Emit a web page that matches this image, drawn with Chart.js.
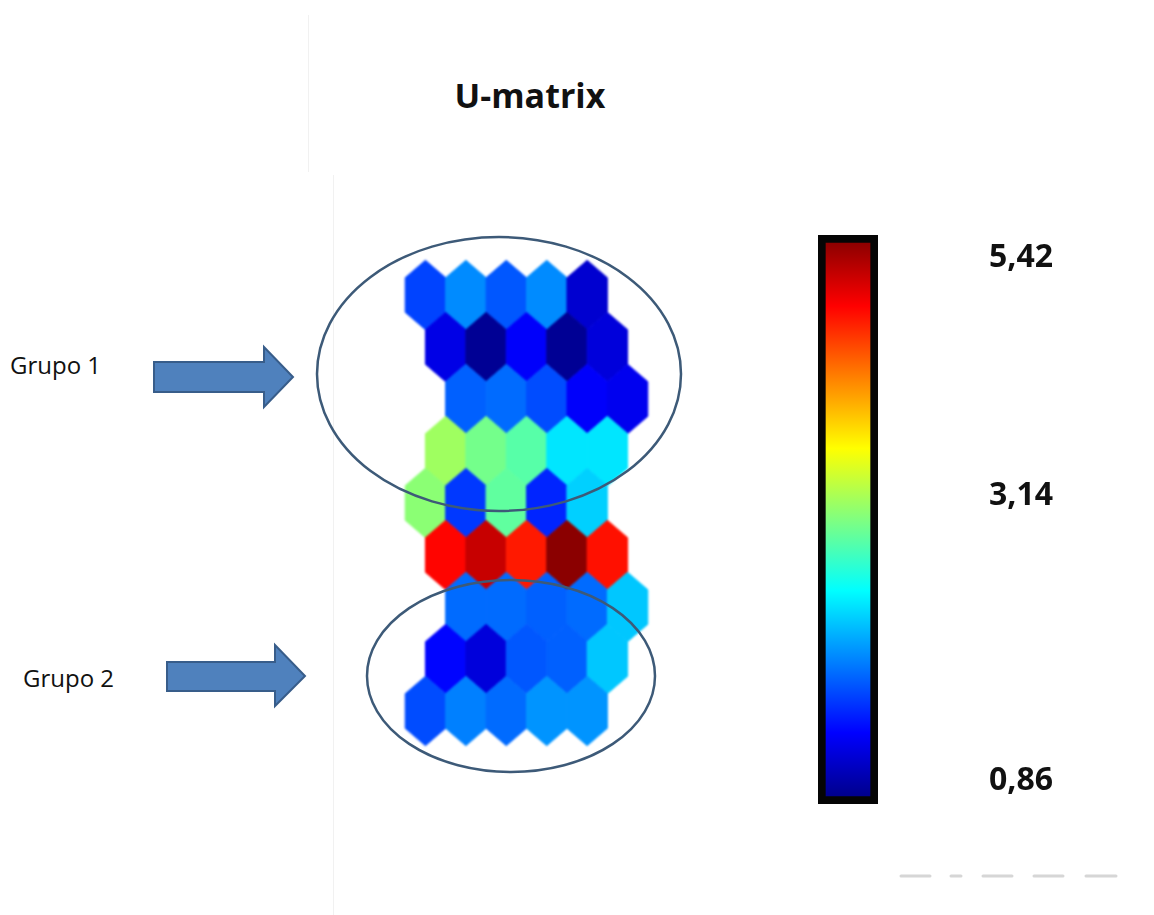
<!DOCTYPE html>
<html>
<head>
<meta charset="utf-8">
<script src="https://cdn.jsdelivr.net/npm/chart.js@4.4.1/dist/chart.umd.min.js"></script>
<style>
html,body{margin:0;padding:0;background:#fff;}
body{width:1154px;height:915px;overflow:hidden;position:relative;font-family:"Open Sans",sans-serif;}
#hexWrap{position:absolute;left:385px;top:243px;width:283px;height:520px;filter:blur(1.3px);}
#cbWrap{position:absolute;left:800px;top:200px;width:300px;height:640px;}
svg{position:absolute;left:0;top:0;}
.txt{position:absolute;white-space:nowrap;color:#111;line-height:1;}
#title{left:330px;top:78px;width:400px;text-align:center;font-size:34px;font-weight:bold;}
#g1{left:10px;top:353px;font-size:24px;}
#g2{left:23px;top:666px;font-size:24px;}
</style>
</head>
<body>
<svg width="1154" height="915" style="z-index:0">
  <line x1="308.5" y1="15" x2="308.5" y2="172" stroke="#f1f1f1" stroke-width="1"/>
  <line x1="333.5" y1="175" x2="333.5" y2="915" stroke="#f1f1f1" stroke-width="1"/>
  <g stroke="#d6d6d6" stroke-width="3" stroke-linecap="round">
    <line x1="901" y1="876" x2="930" y2="876"/>
    <line x1="951" y1="876" x2="961" y2="876"/>
    <line x1="983" y1="876" x2="1012" y2="876"/>
    <line x1="1034" y1="876" x2="1063" y2="876"/>
    <line x1="1086" y1="876" x2="1116" y2="876"/>
  </g>
</svg>
<div id="hexWrap"><canvas id="hex"></canvas></div>
<div id="cbWrap"><canvas id="cb"></canvas></div>
<svg width="1154" height="915" style="z-index:2">
  <ellipse cx="499" cy="374" rx="182" ry="137" fill="none" stroke="#3D5A78" stroke-width="2.5"/>
  <ellipse cx="511" cy="676" rx="144" ry="96" fill="none" stroke="#3D5A78" stroke-width="2.5"/>
  <polygon points="154,362 264,362 264,347 293,377 264,407 264,392 154,392" fill="#4F81BD" stroke="#385D8A" stroke-width="2" stroke-linejoin="miter"/>
  <polygon points="167,662 275,662 275,645 305,676 275,706 275,691 167,691" fill="#4F81BD" stroke="#385D8A" stroke-width="2" stroke-linejoin="miter"/>
</svg>
<div class="txt" id="title">U-matrix</div>
<div class="txt" id="g1">Grupo 1</div>
<div class="txt" id="g2">Grupo 2</div>

<script>
// ---- data ----
const scaleMin = 0.86;
const scaleMax = 5.42;
const colorbarTicks = [0.86, 3.14, 5.42];
const rowShift = [0, 1, 2, 1, 0, 1, 2, 1, 0]; // half-cell offsets of each hex row
const row1 = [1.73, 2.05, 1.82, 2.05, 1.22];
const row2 = [1.32, 0.95, 1.41, 0.95, 1.27];
const row3 = [1.86, 1.91, 1.77, 1.41, 1.36];
const row4 = [3.28, 3.09, 2.96, 2.46, 2.46];
const row5 = [3.19, 1.68, 3.00, 1.59, 2.36];
const row6 = [4.83, 5.10, 4.74, 5.37, 4.78];
const row7 = [1.91, 1.91, 1.86, 1.91, 2.32];
const row8 = [1.45, 1.27, 1.82, 1.86, 2.32];
const row9 = [1.77, 2.00, 1.91, 2.09, 2.09];
const hexRows = [row1, row2, row3, row4, row5, row6, row7, row8, row9];

// ---- colormap (jet) ----
function clamp01(v){ return Math.max(0, Math.min(1, v)); }
function jet(t){
  t = clamp01(t);
  const r = clamp01(1.5 - Math.abs(4*t - 3));
  const g = clamp01(1.5 - Math.abs(4*t - 2));
  const b = clamp01(1.5 - Math.abs(4*t - 1));
  return `rgb(${Math.round(r*255)},${Math.round(g*255)},${Math.round(b*255)})`;
}
function colorFor(v){ return jet((v - scaleMin) / (scaleMax - scaleMin)); }

// ---- hex points ----
const hexPoints = [];
hexRows.forEach((row, r) => {
  row.forEach((v, c) => {
    hexPoints.push({ x: c + rowShift[r] * 0.5, y: r, v: v });
  });
});

const hexPlugin = {
  id: 'hexCells',
  afterDatasetsDraw(chart) {
    const meta = chart.getDatasetMeta(0);
    const ds = chart.data.datasets[0];
    const xs = chart.scales.x, ys = chart.scales.y;
    const hw = Math.abs(xs.getPixelForValue(1) - xs.getPixelForValue(0)) / 2;
    const hh = Math.abs(ys.getPixelForValue(1) - ys.getPixelForValue(0)) / 1.5;
    const ctx = chart.ctx;
    ctx.save();
    meta.data.forEach((el, i) => {
      const d = ds.data[i];
      const cx = el.x, cy = el.y;
      ctx.beginPath();
      ctx.moveTo(cx, cy - hh);
      ctx.lineTo(cx + hw, cy - hh / 2);
      ctx.lineTo(cx + hw, cy + hh / 2);
      ctx.lineTo(cx, cy + hh);
      ctx.lineTo(cx - hw, cy + hh / 2);
      ctx.lineTo(cx - hw, cy - hh / 2);
      ctx.closePath();
      const col = colorFor(d.v);
      ctx.fillStyle = col;
      ctx.strokeStyle = col;
      ctx.lineWidth = 1;
      ctx.fill();
      ctx.stroke();
    });
    ctx.restore();
  }
};

new Chart(document.getElementById('hex'), {
  type: 'scatter',
  data: { datasets: [{ data: hexPoints, pointRadius: 0, pointHoverRadius: 0 }] },
  options: {
    responsive: true, maintainAspectRatio: false, animation: false,
    layout: { padding: 0 },
    plugins: { legend: { display: false }, tooltip: { enabled: false } },
    events: [],
    scales: {
      x: { type: 'linear', min: -1, max: 6, display: false },
      y: { type: 'linear', min: -1, max: 9, reverse: true, display: false }
    }
  },
  plugins: [hexPlugin]
});

// ---- colorbar ----
new Chart(document.getElementById('cb'), {
  type: 'bar',
  data: {
    labels: ['U'],
    datasets: [{
      data: [[scaleMin, scaleMax]],
      backgroundColor: (context) => {
        const chart = context.chart;
        if (!chart.chartArea) return 'rgba(0,0,0,0)';
        const ys = chart.scales.y;
        const g = chart.ctx.createLinearGradient(0, ys.getPixelForValue(scaleMin), 0, ys.getPixelForValue(scaleMax));
        for (let i = 0; i <= 32; i++) { g.addColorStop(i / 32, jet(i / 32)); }
        return g;
      },
      borderColor: '#050505',
      borderWidth: 8,
      borderSkipped: false,
      barPercentage: 1,
      categoryPercentage: 1
    }]
  },
  options: {
    responsive: true, maintainAspectRatio: false, animation: false,
    events: [],
    layout: { padding: { left: 18, top: 35, bottom: 36, right: 0 } },
    plugins: { legend: { display: false }, tooltip: { enabled: false } },
    scales: {
      x: { display: false },
      y: {
        position: 'right',
        min: scaleMin, max: scaleMax,
        afterBuildTicks: (axis) => { axis.ticks = colorbarTicks.map(v => ({ value: v })); },
        afterFit: (scale) => { scale.width = 222; scale.paddingTop = 0; scale.paddingBottom = 0; },
        grid: { display: false, drawTicks: false },
        border: { display: false },
        ticks: {
          padding: 111,
          color: '#111',
          font: { family: 'Open Sans', weight: 'bold', size: 32, lineHeight: 1.45 },
          callback: (value) => {
            const s = Number(value).toFixed(2).replace('.', ',');
            return value >= scaleMax ? ['', s] : [s, ''];
          }
        }
      }
    }
  }
});
</script>
</body>
</html>
